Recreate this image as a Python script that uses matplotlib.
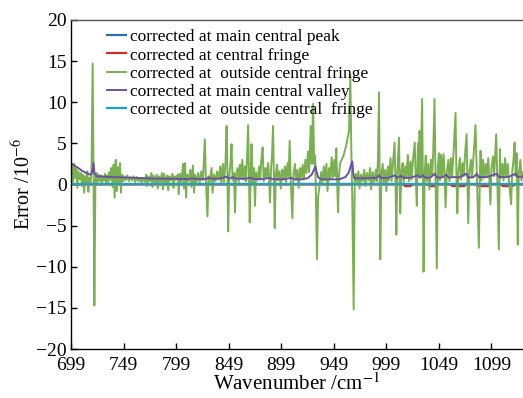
import matplotlib
matplotlib.use("Agg")
import matplotlib.pyplot as plt
from matplotlib import rcParams

rcParams['font.family'] = 'serif'
rcParams['font.serif'] = ['Liberation Serif', 'DejaVu Serif']
rcParams['mathtext.fontset'] = 'stix'

# main central peak / central fringe / outside fringe (cyan) sit on zero
blue_x = [699, 1129]
blue_y = [0.0, 0.0]
red_x = [699, 1015, 1017, 1022, 1024, 1038, 1040, 1047, 1049, 1060, 1062, 1073, 1075, 1084, 1086, 1097, 1099, 1108, 1110, 1119, 1121, 1129]
red_y = [0.0, 0.0, -0.2, -0.2, 0.0, 0.0, -0.2, -0.2, 0.0, 0.0, -0.2, -0.2, 0.0, 0.0, -0.2, -0.2, 0.0, 0.0, -0.2, -0.2, 0.0, 0.0]
cyan_x = [699, 1129]
cyan_y = [0.0, 0.0]

green_x = [699.0, 700.0, 701.0, 702.0, 703.0, 704.0, 705.0, 706.0, 707.5, 708.5, 709.5, 710.5, 711.5, 712.5, 713.5,
           714.5, 715.5, 716.5, 717.5, 718.5, 719.6, 720.4, 721.2, 722.2, 723.2, 724.2, 725.5, 726.5, 727.5, 728.5,
           729.5, 730.5, 731.5, 732.5, 733.5, 734.5, 735.5, 736.5, 737.5, 738.5, 739.5, 740.5, 741.5, 742.5, 743.5,
           744.5, 745.5, 746.5, 747.5, 748.5, 749.5, 751.0, 752.5, 754.0, 755.5, 757.0, 758.5, 760.0, 761.5, 763.0,
           764.5, 766.0, 767.5, 769.0, 770.5, 771.5, 772.5, 774.0, 775.5, 776.5, 777.5, 779.0, 780.5, 781.5, 782.5,
           784.0, 785.5, 786.5, 787.5, 789.0, 790.5, 791.5, 792.5, 794.0, 795.5, 796.5, 797.5, 799.0, 800.5, 801.5,
           802.5, 804.0, 805.5, 806.5, 807.5, 808.5, 809.5, 811.0, 812.5, 813.5, 815.0, 816.0, 817.0, 818.5, 820.0,
           821.5, 823.0, 824.5, 826.3, 827.3, 828.8, 829.8, 831.0, 832.7, 833.7, 835.0, 836.5, 838.0, 839.5, 841.0,
           842.0, 843.5, 844.5, 846.0, 847.0, 847.8, 848.5, 849.5, 850.5, 851.7, 852.7, 854.0, 855.0, 856.0, 857.5,
           858.5, 859.6, 860.6, 862.0, 863.0, 864.5, 865.5, 866.5, 867.5, 868.3, 869.0, 870.0, 870.7, 871.7, 873.0,
           874.0, 875.0, 876.5, 878.0, 879.0, 880.0, 881.3, 882.3, 884.0, 885.0, 886.5, 887.5, 888.3, 889.3, 890.2,
           891.2, 892.0, 892.8, 893.8, 895.0, 896.0, 897.5, 898.5, 900.0, 901.0, 902.5, 903.5, 905.0, 906.0, 907.0,
           908.0, 909.6, 910.6, 912.0, 913.0, 914.5, 915.5, 917.0, 918.0, 919.5, 920.5, 922.0, 923.0, 924.5, 925.5,
           927.0, 928.0, 929.3, 930.3, 931.3, 933.0, 934.0, 936.0, 937.0, 938.0, 939.5, 940.5, 942.0, 943.0, 944.5,
           945.5, 947.0, 948.0, 949.5, 950.5, 951.4, 952.2, 953.0, 954.0, 955.0, 956.5, 958.5, 960.5, 962.5, 963.5,
           964.7, 965.8, 966.6, 967.9, 968.9, 969.8, 971.0, 972.5, 973.5, 975.0, 976.5, 978.0, 979.0, 980.5, 982.0,
           983.5, 984.5, 986.0, 987.5, 989.0, 990.0, 991.0, 992.0, 992.6, 993.2, 994.2, 995.5, 996.5, 998.0, 999.0,
           1000.5, 1001.5, 1003.0, 1004.0, 1005.5, 1006.8, 1007.6, 1008.5, 1009.5, 1011.0, 1011.7, 1012.2, 1013.2,
           1014.5, 1015.5, 1017.0, 1018.0, 1019.5, 1020.5, 1022.0, 1023.0, 1024.5, 1026.0, 1027.0, 1028.0, 1029.0,
           1030.0, 1030.6, 1031.6, 1033.0, 1033.7, 1034.4, 1035.4, 1036.5, 1037.5, 1039.0, 1040.0, 1041.5, 1042.5,
           1043.5, 1044.8, 1045.8, 1047.0, 1048.0, 1049.0, 1050.0, 1051.0, 1052.0, 1053.5, 1054.5, 1055.3, 1056.5,
           1058.0, 1059.0, 1060.5, 1061.5, 1063.0, 1064.8, 1065.7, 1066.5, 1067.5, 1069.0, 1070.0, 1071.5, 1072.5,
           1073.8, 1075.3, 1076.1, 1076.9, 1078.0, 1079.5, 1080.5, 1082.0, 1083.8, 1085.0, 1087.0, 1088.0, 1088.6,
           1089.6, 1091.0, 1092.0, 1093.5, 1094.5, 1096.0, 1097.0, 1098.0, 1099.0, 1100.5, 1101.5, 1103.5, 1104.5,
           1106.0, 1107.0, 1108.0, 1109.5, 1110.5, 1112.0, 1113.0, 1114.5, 1115.5, 1117.7, 1118.7, 1120.0, 1121.0,
           1122.0, 1123.0, 1124.0, 1125.0, 1126.5, 1127.5, 1129.0]
green_y = [1.2, 2.4, 0.3, 2.5, 0.8, 1.9, -0.4, 1.6, 0.6, 1.4, -0.2, 1.2, -1.0, 1.0, 0.2,
           1.6, -0.9, 0.8, 0.1, 1.8, 14.7, 1.5, -14.7, 0.6, 1.4, 0.2, 1.2, 0.4, 1.1, 0.1,
           1.0, 0.5, 1.3, 0.2, 1.1, 0.3, 1.5, 0.6, 2.0, -0.3, 2.4, -1.6, 3.0, -0.8, 2.1,
           0.1, 2.6, -1.0, 1.2, 0.4, 1.0, 0.5, 1.1, 0.4, 0.9, 0.5, 1.0, 0.3, 0.9, 0.4,
           0.8, 0.2, 0.8, 0.3, 1.2, -0.2, 1.0, 0.4, 1.4, -0.3, 1.1, 0.2, 1.2, -0.5, 1.0,
           0.3, 1.4, -0.6, 1.3, 0.2, 1.1, -0.7, 1.0, 0.5, 1.3, -0.4, 1.0, 0.6, 1.2, -1.2,
           1.3, 0.3, 2.5, -0.5, 2.6, -1.6, 1.2, 0.4, 1.8, -0.3, 2.3, -1.0, 1.2, 0.3, 1.4,
           0.2, 1.6, 0.5, 5.5, 0.6, -3.9, 1.0, 0.3, 2.0, -1.0, 1.2, 0.4, 1.6, 0.6, 2.2,
           0.1, 2.5, 0.3, 2.8, 7.1, 1.2, -5.7, 1.0, 2.2, 4.9, 0.5, 1.4, -3.4, 1.2, 2.0,
           0.3, 2.4, 0.8, 3.0, 0.6, 2.2, 0.4, 3.5, 7.2, 1.0, -4.6, 1.5, 4.9, 0.2, 2.0,
           -2.6, 1.5, 0.5, 2.2, 0.6, 3.0, 4.5, 0.4, 2.0, 0.8, 2.6, 0.5, -2.2, 2.0, 3.5,
           7.1, 0.8, -5.3, 1.2, 2.4, 0.5, 1.6, -0.5, 1.8, 0.6, 2.2, 0.3, 2.6, 1.0, 5.3,
           0.6, -4.1, 1.2, 2.5, 0.6, 1.8, -0.4, 2.0, 0.8, 2.4, 0.6, 3.0, 1.4, 4.0, 1.5,
           7.1, 2.5, 9.8, 2.5, 3.5, -9.1, -1.6, 0.4, 1.5, 0.2, 2.2, 0.5, 2.5, -0.8, 2.0,
           0.6, 3.3, 0.8, 3.0, 1.0, 4.4, 0.5, -3.4, 1.2, 2.6, 3.0, 3.6, 4.6, 5.9, 6.5,
           13.3, 3.0, -2.0, -15.2, 0.6, 1.3, 0.3, 1.6, -0.5, 1.2, 0.4, 1.8, -0.2, 1.4, 0.5,
           2.0, -0.6, 1.5, 0.3, 1.8, 0.4, 3.0, 11.2, 1.0, -9.1, 1.2, 2.5, 0.2, 1.8, -0.8,
           2.2, 0.5, 3.2, 0.4, 3.0, 5.1, 0.8, -6.1, 1.5, 5.7, 0.5, -3.5, 1.5,
           2.6, 0.3, 2.2, 0.8, 3.6, 0.4, 2.8, 0.6, 3.2, 5.1, 0.6, -2.6, 5.0,
           1.2, 6.5, 1.0, 10.4, 1.0, -10.6, 1.2, 3.5, 0.4, 2.5, -0.6, 3.0, 1.0,
           3.6, 10.4, 1.0, -10.2, 2.0, 3.8, 0.5, 3.6, 1.0, 3.7, 1.0, -2.8, 1.5,
           3.0, 0.4, 3.2, 1.0, 4.0, 8.7, 1.0, -3.5, 1.6, 3.2, 0.6, 2.6, 1.0,
           3.5, 6.1, 0.8, -4.7, 1.5, 3.0, 0.8, 3.6, 7.2, 1.5, -7.7, 1.2, 4.1,
           0.5, 3.0, 0.8, 2.5, 1.0, 3.2, 0.5, -2.4, 2.0, 3.4, 1.0, 6.1, 1.0,
           -7.9, 4.3, 0.8, 2.5, 0.5, 3.2, 1.0, 2.5, 0.6, -2.4, 1.5, 3.0, 5.1,
           1.0, 3.8, -7.3, 1.2, 3.0, 0.5, 1.5]

purple_x = [699, 702, 706, 709, 712, 715, 717.5, 719.0, 720.4, 721.3, 723.0, 730, 740, 750, 760, 770, 780, 790,
            800, 810, 815, 818, 828, 830, 832, 840, 847, 849, 853, 855, 865, 870, 872, 880, 888, 890, 900, 909,
            911, 918, 924, 928, 930.5, 931.5, 932.5, 934, 936, 940, 950, 955, 960, 963, 965, 966.6, 967.5, 968.5,
            975, 980, 985, 990, 992, 994, 1000, 1007, 1009, 1013, 1015, 1022, 1029, 1031, 1034, 1036, 1041, 1045,
            1047, 1052, 1056, 1058, 1065, 1068, 1075, 1077, 1082, 1085, 1087, 1095, 1104, 1106, 1115, 1122, 1124,
            1129]
purple_y = [2.6, 2.3, 2.0, 1.7, 1.5, 1.3, 1.2, 1.4, 2.6, 1.4, 1.0, 0.95, 0.9, 0.85, 0.8, 0.75, 0.72, 0.7,
            0.68, 0.66, 0.75, 0.66, 0.68, 0.85, 0.7, 0.7, 0.95, 0.72, 0.9, 0.72, 0.68, 0.85, 0.68, 0.65, 0.8, 0.66,
            0.62, 0.8, 0.62, 0.62, 0.75, 1.2, 1.9, 2.2, 1.6, 0.9, 0.7, 0.62, 0.62, 0.65, 0.9, 1.4, 2.2, 2.8, 1.3,
            0.75, 0.75, 0.75, 0.8, 0.8, 1.1, 0.8, 0.8, 1.1, 0.8, 1.05, 0.8, 0.82, 1.1, 0.82, 1.1, 0.82, 0.85, 1.3,
            0.85, 0.85, 1.2, 0.85, 0.9, 0.85, 1.3, 0.85, 0.9, 1.3, 0.9, 0.9, 1.3, 0.9, 0.9, 1.3, 0.92, 0.95]

labels = ['corrected at main central peak',
          'corrected at central fringe',
          'corrected at  outside central fringe',
          'corrected at main central valley',
          'corrected at  outside central  fringe']
colors = ['#2a6db5', '#c9302c', '#7bb050', '#6a52a3', '#1ca3c4']
x_ticks = [699, 749, 799, 849, 899, 949, 999, 1049, 1099]
y_ticks = [-20, -15, -10, -5, 0, 5, 10, 15, 20]

fig = plt.figure(figsize=(5.23, 3.98), dpi=100)
ax = fig.add_axes([0.1358, 0.123, 0.8642, 0.827])

l0, = ax.plot(blue_x, blue_y, color=colors[0], linewidth=1.6, label=labels[0])
l1, = ax.plot(red_x, red_y, color=colors[1], linewidth=1.6, label=labels[1])
l2, = ax.plot(green_x, green_y, color=colors[2], linewidth=1.4, label=labels[2])
l3, = ax.plot(purple_x, purple_y, color=colors[3], linewidth=1.4, label=labels[3])
l4, = ax.plot(cyan_x, cyan_y, color=colors[4], linewidth=1.6, label=labels[4])

ax.set_xlim(699, 1129)
ax.set_ylim(-20, 20)
ax.set_xticks(x_ticks)
ax.set_yticks(y_ticks)
ax.tick_params(direction='in', length=4, width=1, labelsize=14)
ax.tick_params(axis='x', pad=6)
ax.tick_params(axis='y', pad=3)
ax.spines['right'].set_visible(False)
for s in ['left', 'bottom', 'top']:
    ax.spines[s].set_linewidth(1.0)
ax.spines['top'].set_color('#555555')

ax.set_xlabel('Wavenumber /cm$^{-1}$', fontsize=15, labelpad=-1)
ax.set_ylabel('Error /10$^{-6}$', fontsize=14.5, labelpad=1)

ax.legend(handles=[l0, l1, l2, l3, l4], loc='upper left', bbox_to_anchor=(0.08, 0.972),
          frameon=False, fontsize=12.5, handlelength=1.1, handletextpad=0.23,
          labelspacing=0.12, borderaxespad=0, borderpad=0)

fig.savefig('out.png', dpi=100)
